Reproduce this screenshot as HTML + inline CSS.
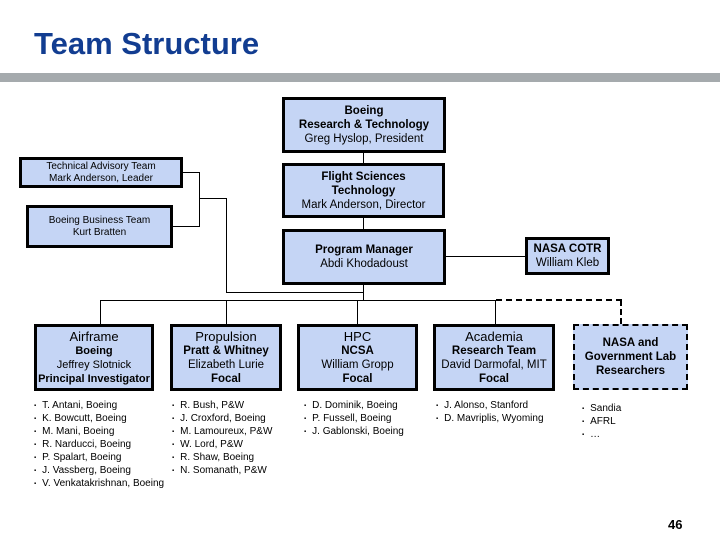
<!DOCTYPE html>
<html><head><style>
body{margin:0;width:720px;height:540px;background:#fff;position:relative;overflow:hidden;font-family:"Liberation Sans",sans-serif;}
.b{position:absolute;box-sizing:border-box;background:#c5d5f5;border:3px solid #000;display:flex;flex-direction:column;justify-content:center;align-items:center;text-align:center;font-size:11.5px;line-height:14px;color:#000;white-space:nowrap;}
.b b{font-weight:bold}
.big{font-size:13px}
.l{position:absolute;background:#000}
ul{position:absolute;margin:0;padding:0;list-style:none;font-size:10px;line-height:12px;}
ul li:before{content:"▪";font-size:6px;margin-right:6px;position:relative;top:-1px}
</style></head><body>
<div style="position:absolute;left:34px;top:26px;font-size:31px;font-weight:bold;color:#123d91;">Team Structure</div>
<div style="position:absolute;left:0;top:73px;width:720px;height:9px;background:#a5aaad"></div>

<div class="b" style="left:282px;top:97px;width:164px;height:56px"><b>Boeing</b><b>Research &amp; Technology</b><span>Greg Hyslop, President</span></div>
<div class="b" style="left:282px;top:163px;width:163px;height:55px"><b>Flight Sciences</b><b>Technology</b><span>Mark Anderson, Director</span></div>
<div class="b" style="left:282px;top:229px;width:164px;height:56px"><b>Program Manager</b><span>Abdi Khodadoust</span></div>
<div class="b" style="left:525px;top:237px;width:85px;height:38px"><b>NASA COTR</b><span>William Kleb</span></div>
<div class="b" style="left:19px;top:157px;width:164px;height:31px;font-size:10px;line-height:12px"><span>Technical Advisory Team</span><span>Mark Anderson, Leader</span></div>
<div class="b" style="left:26px;top:205px;width:147px;height:43px;font-size:10px;line-height:12px"><span>Boeing Business Team</span><span>Kurt Bratten</span></div>

<!-- connectors -->
<div class="l" style="left:363px;top:152px;width:1px;height:11px"></div>
<div class="l" style="left:363px;top:217px;width:1px;height:12px"></div>
<div class="l" style="left:363px;top:284px;width:1px;height:17px"></div>
<div class="l" style="left:446px;top:256px;width:79px;height:1px"></div>
<div class="l" style="left:182px;top:172px;width:17px;height:1px"></div>
<div class="l" style="left:172px;top:226px;width:27px;height:1px"></div>
<div class="l" style="left:199px;top:172px;width:1px;height:55px"></div>
<div class="l" style="left:199px;top:198px;width:27px;height:1px"></div>
<div class="l" style="left:226px;top:198px;width:1px;height:94px"></div>
<div class="l" style="left:226px;top:292px;width:137px;height:1px"></div>
<div class="l" style="left:100px;top:300px;width:396px;height:1px"></div>
<div class="l" style="left:100px;top:300px;width:1px;height:24px"></div>
<div class="l" style="left:226px;top:300px;width:1px;height:24px"></div>
<div class="l" style="left:357px;top:300px;width:1px;height:24px"></div>
<div class="l" style="left:495px;top:300px;width:1px;height:24px"></div>
<div style="position:absolute;left:496px;top:299px;width:126px;height:0;border-top:2px dashed #000"></div>
<div style="position:absolute;left:620px;top:300px;width:0;height:24px;border-left:2px dashed #000"></div>

<div class="b" style="left:34px;top:324px;width:120px;height:67px;font-size:11px"><span class="big">Airframe</span><b>Boeing</b><span>Jeffrey Slotnick</span><b>Principal Investigator</b></div>
<div class="b" style="left:170px;top:324px;width:112px;height:67px"><span class="big">Propulsion</span><b>Pratt &amp; Whitney</b><span>Elizabeth Lurie</span><b>Focal</b></div>
<div class="b" style="left:297px;top:324px;width:121px;height:67px"><span class="big">HPC</span><b>NCSA</b><span>William Gropp</span><b>Focal</b></div>
<div class="b" style="left:433px;top:324px;width:122px;height:67px"><span class="big">Academia</span><b>Research Team</b><span>David Darmofal, MIT</span><b>Focal</b></div>
<div class="b" style="left:573px;top:324px;width:115px;height:66px;border:2px dashed #000"><b>NASA and</b><b>Government Lab</b><b>Researchers</b></div>

<ul style="left:34px;top:400px"><li>T. Antani, Boeing</li><li>K. Bowcutt, Boeing</li><li>M. Mani, Boeing</li><li>R. Narducci, Boeing</li><li>P. Spalart, Boeing</li><li>J. Vassberg, Boeing</li><li>V. Venkatakrishnan, Boeing</li></ul>
<ul style="left:172px;top:400px"><li>R. Bush, P&amp;W</li><li>J. Croxford, Boeing</li><li>M. Lamoureux, P&amp;W</li><li>W. Lord, P&amp;W</li><li>R. Shaw, Boeing</li><li>N. Somanath, P&amp;W</li></ul>
<ul style="left:304px;top:400px"><li>D. Dominik, Boeing</li><li>P. Fussell, Boeing</li><li>J. Gablonski, Boeing</li></ul>
<ul style="left:436px;top:400px"><li>J. Alonso, Stanford</li><li>D. Mavriplis, Wyoming</li></ul>
<ul style="left:582px;top:403px"><li>Sandia</li><li>AFRL</li><li>…</li></ul>

<div style="position:absolute;left:668px;top:517px;font-size:13px;font-weight:bold">46</div>
</body></html>
